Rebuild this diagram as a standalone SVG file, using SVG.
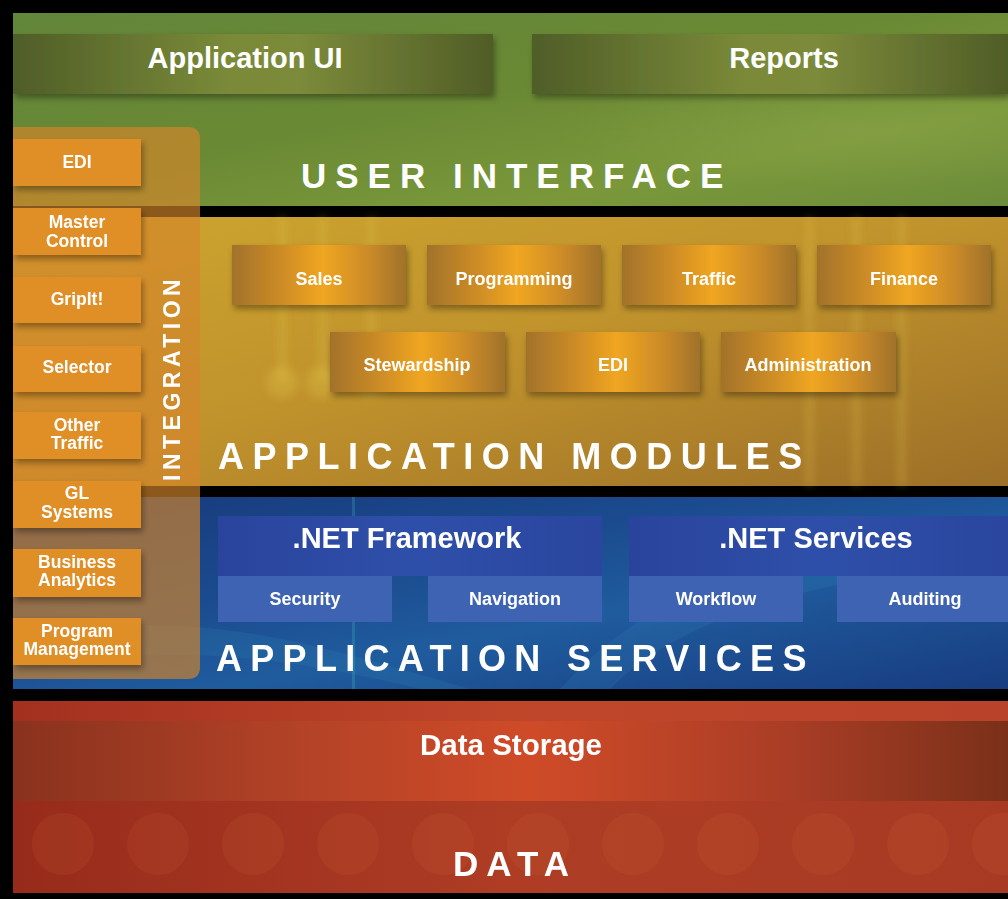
<svg xmlns="http://www.w3.org/2000/svg" width="1008" height="899" viewBox="0 0 1008 899">
<defs>
<linearGradient id="gBg" x1="0" y1="0" x2="1" y2="1">
<stop offset="0" stop-color="#62863a"/>
<stop offset="0.45" stop-color="#6a8934"/>
<stop offset="0.75" stop-color="#7a983a"/>
<stop offset="1" stop-color="#6c8c3a"/>
</linearGradient>
<radialGradient id="gGlow" cx="0.85" cy="0.6" r="0.3">
<stop offset="0" stop-color="#9aae55" stop-opacity="0.3"/>
<stop offset="1" stop-color="#9aae55" stop-opacity="0"/>
</radialGradient>
<linearGradient id="uiBar" x1="0" y1="0" x2="1" y2="0">
<stop offset="0" stop-color="#4f5e28"/>
<stop offset="0.45" stop-color="#7a8a38"/>
<stop offset="0.6" stop-color="#7b8a3a"/>
<stop offset="1" stop-color="#505d27"/>
</linearGradient>
<linearGradient id="oBg" x1="0" y1="0" x2="1" y2="1">
<stop offset="0" stop-color="#cda52f"/>
<stop offset="0.5" stop-color="#c0922c"/>
<stop offset="1" stop-color="#9c6f28"/>
</linearGradient>
<linearGradient id="modBox" x1="0" y1="0" x2="1" y2="0">
<stop offset="0" stop-color="#a2722b"/>
<stop offset="0.3" stop-color="#cf8d26"/>
<stop offset="0.52" stop-color="#f0a620"/>
<stop offset="0.78" stop-color="#cc8b28"/>
<stop offset="1" stop-color="#a0722c"/>
</linearGradient>
<linearGradient id="bBg" x1="0" y1="0" x2="1" y2="1">
<stop offset="0" stop-color="#173a7a"/>
<stop offset="0.35" stop-color="#1b4a8e"/>
<stop offset="0.6" stop-color="#1f5c9e"/>
<stop offset="1" stop-color="#183c80"/>
</linearGradient>
<linearGradient id="netBox" x1="0" y1="0" x2="1" y2="0">
<stop offset="0" stop-color="#2a449c"/>
<stop offset="0.5" stop-color="#2e4fa9"/>
<stop offset="1" stop-color="#2a469e"/>
</linearGradient>
<linearGradient id="rBg" x1="0" y1="0" x2="1" y2="0">
<stop offset="0" stop-color="#a3301f"/>
<stop offset="0.5" stop-color="#c0462a"/>
<stop offset="1" stop-color="#b8432a"/>
</linearGradient>
<linearGradient id="storeBar" x1="0" y1="0" x2="1" y2="0">
<stop offset="0" stop-color="#8a321e"/>
<stop offset="0.3" stop-color="#b54327"/>
<stop offset="0.52" stop-color="#cf4b28"/>
<stop offset="0.78" stop-color="#aa3d26"/>
<stop offset="1" stop-color="#7b3019"/>
</linearGradient>
<filter id="sh" x="-10%" y="-20%" width="125%" height="150%">
<feDropShadow dx="2" dy="4" stdDeviation="3" flood-color="#000" flood-opacity="0.35"/>
</filter>
<filter id="blur4"><feGaussianBlur stdDeviation="4"/></filter>
</defs>
<style>
text{font-family:"Liberation Sans",Arial,Helvetica,sans-serif;font-weight:bold;fill:#fff}
.big{font-size:29px;text-anchor:middle}
.mod{font-size:18px;text-anchor:middle}
.side{font-size:17.5px;text-anchor:middle}
.sub{font-size:18px;text-anchor:middle}
.layer{font-size:36px;letter-spacing:8.5px}
.mbox{fill:url(#modBox);filter:url(#sh)}
.sbox{fill:#e08e28;filter:url(#sh)}
.ubar{fill:url(#uiBar);filter:url(#sh)}
.nbox{fill:url(#netBox)}
.subb{fill:#3e63b3}
.deco{fill:#e8d050;opacity:0.25}
</style>

<rect x="0" y="0" width="1008" height="899" fill="#000"/>

<!-- USER INTERFACE layer -->
<g id="layer-ui">
<rect x="13" y="13" width="995" height="193" fill="url(#gBg)"/>
<rect x="13" y="13" width="995" height="193" fill="url(#gGlow)"/>
<text x="301" y="188" style="font-size:35px;letter-spacing:9px">USER INTERFACE</text>
</g>

<!-- APPLICATION MODULES layer -->
<g id="layer-modules">
<rect x="13" y="217" width="995" height="269" fill="url(#oBg)"/>
<g filter="url(#blur4)">
<rect x="279" y="217" width="7" height="165" class="deco"/>
<rect x="319" y="217" width="7" height="165" class="deco"/>
<rect x="368" y="217" width="7" height="165" class="deco"/>
<circle cx="282" cy="382" r="16" class="deco"/>
<circle cx="322" cy="382" r="16" class="deco"/>
<circle cx="371" cy="382" r="16" class="deco"/>
<rect x="806" y="217" width="7" height="269" class="deco"/>
<rect x="853" y="217" width="7" height="269" class="deco"/>
<rect x="898" y="217" width="7" height="269" class="deco"/>
</g>
<text x="218" y="469" class="layer">APPLICATION MODULES</text>
</g>

<!-- APPLICATION SERVICES layer -->
<g id="layer-services">
<rect x="13" y="497" width="995" height="192" fill="url(#bBg)"/>
<path d="M560 689 C640 600 760 540 1008 520 L1008 560 C800 580 680 620 610 689 Z" fill="#3fa0d0" opacity="0.12"/>
<path d="M13 640 C200 600 330 650 470 689 L420 689 C300 660 180 640 13 670 Z" fill="#40b0d0" opacity="0.1"/>
<rect x="352" y="497" width="3" height="192" fill="#40c0c0" opacity="0.25"/>
<text x="216" y="671" style="font-size:36px;letter-spacing:8.3px">APPLICATION SERVICES</text>
</g>

<!-- DATA layer -->
<g id="layer-data">
<rect x="13" y="701" width="995" height="192" fill="url(#rBg)"/>
<rect x="13" y="801" width="995" height="92" fill="#6a1a10" opacity="0.2"/>
<g fill="#e07a40" opacity="0.1">
<ellipse cx="63" cy="844" rx="31" ry="31"/>
<ellipse cx="158" cy="844" rx="31" ry="31"/>
<ellipse cx="253" cy="844" rx="31" ry="31"/>
<ellipse cx="348" cy="844" rx="31" ry="31"/>
<ellipse cx="443" cy="844" rx="31" ry="31"/>
<ellipse cx="538" cy="844" rx="31" ry="31"/>
<ellipse cx="633" cy="844" rx="31" ry="31"/>
<ellipse cx="728" cy="844" rx="31" ry="31"/>
<ellipse cx="823" cy="844" rx="31" ry="31"/>
<ellipse cx="918" cy="844" rx="31" ry="31"/>
<ellipse cx="1003" cy="844" rx="31" ry="31"/>
</g>
<text x="453" y="876" style="font-size:35px;letter-spacing:8px">DATA</text>
</g>

<!-- Top bars -->
<g id="app-ui">
<rect x="13" y="34" width="480" height="60" class="ubar"/>
<text x="245" y="68" class="big">Application UI</text>
</g>
<g id="reports">
<rect x="532" y="34" width="476" height="60" class="ubar"/>
<text x="784" y="68" class="big">Reports</text>
</g>

<!-- Application modules -->
<g id="mod-sales"><rect x="232" y="245" width="174" height="60" class="mbox"/><text x="319" y="285" class="mod">Sales</text></g>
<g id="mod-programming"><rect x="427" y="245" width="174" height="60" class="mbox"/><text x="514" y="285" class="mod">Programming</text></g>
<g id="mod-traffic"><rect x="622" y="245" width="174" height="60" class="mbox"/><text x="709" y="285" class="mod">Traffic</text></g>
<g id="mod-finance"><rect x="817" y="245" width="174" height="60" class="mbox"/><text x="904" y="285" class="mod">Finance</text></g>
<g id="mod-stewardship"><rect x="330" y="332" width="175" height="60" class="mbox"/><text x="417" y="371" class="mod">Stewardship</text></g>
<g id="mod-edi"><rect x="526" y="332" width="174" height="60" class="mbox"/><text x="613" y="371" class="mod">EDI</text></g>
<g id="mod-administration"><rect x="721" y="332" width="175" height="60" class="mbox"/><text x="808" y="371" class="mod">Administration</text></g>

<!-- Services -->
<g id="net-framework">
<rect x="218" y="516" width="384" height="60" class="nbox"/>
<text x="407" y="548" class="big">.NET Framework</text>
</g>
<g id="svc-security"><rect x="218" y="576" width="174" height="46" class="subb"/><text x="305" y="605" class="sub">Security</text></g>
<g id="svc-navigation"><rect x="428" y="576" width="174" height="46" class="subb"/><text x="515" y="605" class="sub">Navigation</text></g>
<g id="net-services">
<rect x="629" y="516" width="379" height="60" class="nbox"/>
<text x="816" y="548" class="big">.NET Services</text>
</g>
<g id="svc-workflow"><rect x="629" y="576" width="174" height="46" class="subb"/><text x="716" y="605" class="sub">Workflow</text></g>
<g id="svc-auditing"><rect x="837" y="576" width="171" height="46" class="subb"/><text x="925" y="605" class="sub">Auditing</text></g>

<!-- Data storage -->
<g id="data-storage">
<rect x="13" y="721" width="995" height="80" fill="url(#storeBar)"/>
<text x="511" y="755" style="font-size:29.5px;text-anchor:middle">Data Storage</text>
</g>

<!-- Integration panel -->
<g id="integration">
<path d="M13 127 H188 Q200 127 200 139 V667 Q200 679 188 679 H13 Z" fill="#d4852a" opacity="0.66"/>
<text transform="translate(180,481) rotate(-90)" style="font-size:23px;letter-spacing:4.5px">INTEGRATION</text>
</g>
<g id="int-edi"><rect x="13" y="139" width="128" height="47" class="sbox"/><text x="77" y="168" class="side">EDI</text></g>
<g id="int-master"><rect x="13" y="208" width="128" height="47" class="sbox"/><text x="77" y="228" class="side">Master</text><text x="77" y="247" class="side">Control</text></g>
<g id="int-gripit"><rect x="13" y="277" width="128" height="46" class="sbox"/><text x="77" y="305" class="side">GripIt!</text></g>
<g id="int-selector"><rect x="13" y="346" width="128" height="46" class="sbox"/><text x="77" y="373" class="side">Selector</text></g>
<g id="int-other"><rect x="13" y="412" width="128" height="47" class="sbox"/><text x="77" y="431" class="side">Other</text><text x="77" y="449" class="side">Traffic</text></g>
<g id="int-gl"><rect x="13" y="481" width="128" height="47" class="sbox"/><text x="77" y="499" class="side">GL</text><text x="77" y="518" class="side">Systems</text></g>
<g id="int-ba"><rect x="13" y="549" width="128" height="48" class="sbox"/><text x="77" y="568" class="side">Business</text><text x="77" y="586" class="side">Analytics</text></g>
<g id="int-pm"><rect x="13" y="618" width="128" height="47" class="sbox"/><text x="77" y="637" class="side">Program</text><text x="77" y="655" class="side">Management</text></g>

<g id="connectors"/>
</svg>
